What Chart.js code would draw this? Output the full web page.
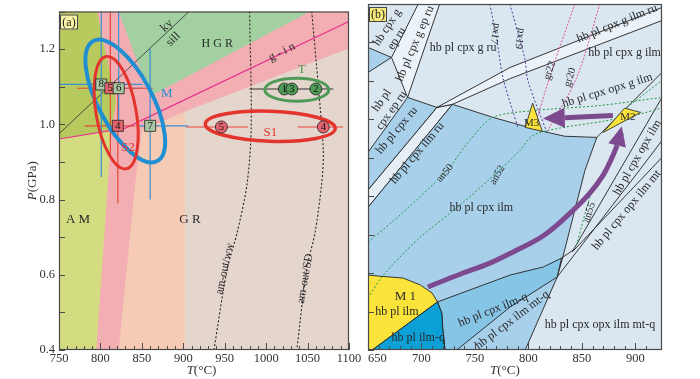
<!DOCTYPE html>
<html>
<head>
<meta charset="utf-8">
<script src="https://cdn.jsdelivr.net/npm/chart.js@4.4.0/dist/chart.umd.min.js"></script>
<style>
  html, body { margin: 0; padding: 0; background: #fff; }
  #wrap { position: relative; width: 700px; height: 379px; overflow: hidden; }
  canvas { position: absolute; top: 0; }
  #chartA { left: 0; }
  #chartB { left: 355px; }
</style>
</head>
<body>
<div id="wrap">
  <canvas id="chartA" width="370" height="379"></canvas>
  <canvas id="chartB" width="345" height="379"></canvas>
</div>
<script>
// ---------- panel (a) data : T in °C, P in GPa ----------
const fieldOliveDark = [[750, 1.3], [796, 1.3], [819, 1.06], [813, 0.984], [750, 0.961]];
const fieldOliveLight = [[750, 0.961], [813, 0.984], [809, 0.84], [795, 0.4], [750, 0.4]];
const fieldHGR = [[822, 1.3], [1053, 1.3], [860, 1.075]];
const fieldGRlow = [[850, 0.984], [902, 1.034], [902, 0.4], [822, 0.4], [842, 0.842]];
const fieldGRhigh = [[902, 1.034], [1100, 1.202], [1100, 0.4], [902, 0.4]];

const kySillT = [750, 907];
const kySillP = [0.975, 1.3];
const gInT = [750, 830, 1101];
const gInP = [0.961, 0.990, 1.275];
const amWwT = [980, 982, 977, 965, 953, 937];
const amWwP = [1.3, 0.997, 0.842, 0.712, 0.616, 0.4];
const amSdT = [1055, 1063, 1069, 1067, 1059, 1049, 1037];
const amSdP = [1.3, 1.101, 0.927, 0.842, 0.712, 0.616, 0.4];

// squares (numbered samples) with error bars
const sqNum = ['8', '5', '6', '4', '7'];
const sqT = [801, 812, 822, 821, 860];
const sqP = [1.106, 1.096, 1.096, 0.996, 0.996];
const sqTlo = [749, 772, 800, 781, 845];
const sqThi = [851, 863, 850, 842, 906];
const sqPlo = [0.86, 0.92, 1.0, 0.79, 0.80];
const sqPhi = [1.30, 1.30, 1.30, 1.10, 1.20];
const sqRed = [false, true, false, true, false];

// circles
const ciNum = ['5', '4', '1', '3', '2'];
const ciT = [946, 1069, 1022, 1031, 1060];
const ciP = [0.993, 0.993, 1.094, 1.094, 1.094];
const ciTlo = [903, 1038, 980, null, null];
const ciThi = [978, 1093, 1081, null, null];
const ciRed = [true, true, false, false, false];

// ellipses (centres)
const ellName = ['M', 'S2', 'S1', 'T'];
const ellT = [830, 819, 1005, 1037];
const ellP = [1.062, 1.031, 0.995, 1.092];

// ---------- panel (b) data ----------
const fieldWedge = [[650, 1.187], [672, 1.161], [650, 1.122]];
const stripeGEpRu = [[697, 1.3], [717, 1.3], [687, 1.057], [672, 1.161]];
const fieldCpxRu = [[650, 0.914], [687, 1.057], [714.5, 1.031], [650, 0.816]];
const stripeIlmRu = [[650, 0.816], [714.5, 1.031], [729, 1.039], [650, 0.771]];
const stripeGIlmRu = [[714.5, 1.031], [783, 1.135], [925, 1.291], [925, 1.257], [783, 1.106], [729, 1.039]];
const fieldCpxIlm = [[650, 0.771], [729, 1.039], [767, 1.005], [813, 0.969], [834, 0.956], [864, 0.953],
  [853, 0.868], [832, 0.639], [827, 0.590], [797, 0.4], [650, 0.4]];
const fieldCpxIlmQ = [[715, 0.525], [783, 0.595], [814, 0.616], [831, 0.639], [827, 0.590], [783, 0.512],
  [733, 0.4], [722, 0.4], [720, 0.452], [719, 0.496]];
const fieldM1 = [[650, 0.595], [661, 0.592], [683, 0.587], [699, 0.569], [710, 0.548], [715, 0.525], [654, 0.4], [650, 0.4]];
const fieldIlmQ = [[715, 0.525], [719, 0.496], [720, 0.452], [722, 0.4], [654, 0.4]];
const triM3 = [[804, 1.042], [797, 0.979], [813, 0.969]];
const triM2 = [[870, 0.966], [890, 1.029], [905, 1.018]];

const lineR1T = [864, 925];
const lineR1P = [0.953, 1.122];
const lineR2T = [831, 842, 885.5, 925];
const lineR2P = [0.639, 0.660, 0.868, 1.057];
const lineR3T = [827, 904, 925];
const lineR3P = [0.590, 0.868, 0.945];
const lineR4T = [841, 925];
const lineR4P = [0.655, 0.901];

const an50T = [650, 680, 724, 745, 767, 806, 867, 925];
const an50P = [0.681, 0.751, 0.868, 0.945, 1.005, 1.023, 1.036, 1.057];
const an52T = [650, 663, 696, 736, 773, 792, 804, 829, 870, 906, 925];
const an52P = [0.535, 0.590, 0.686, 0.777, 0.868, 0.919, 0.958, 0.977, 0.995, 1.015, 1.030];
const an55T = [845, 860, 871.5, 881, 890];
const an55P = [0.673, 0.816, 0.868, 0.919, 0.966];
const anUpT = [892, 925];
const anUpP = [1.031, 1.101];

const px17T = [764, 770.6, 776.2, 790.2];
const px17P = [1.3, 1.205, 1.109, 0.979];
const px19T = [782.7, 796.7, 799.5, 817.3];
const px19P = [1.3, 1.158, 1.101, 0.966];
const gr22T = [843.5, 822.9, 806.1];
const gr22P = [1.3, 1.135, 0.984];
const gr20T = [866.8, 845.3, 818.2];
const gr20P = [1.3, 1.109, 0.971];

// P-T path arrows
const pathT = [706, 736, 764, 787, 815, 842, 857.5, 870, 878, 883];
const pathP = [0.564, 0.597, 0.626, 0.657, 0.699, 0.764, 0.808, 0.855, 0.899, 0.932];
const pathTip = [887.4, 0.982];
const backT = [879, 834];
const backP = [1.010, 1.004];
const backTip = [813.6, 1.002];

// ---------- styles ----------
Chart.defaults.font.family = '"Liberation Serif", "Times New Roman", serif';
Chart.defaults.color = '#333';
const SERIF = '"Liberation Serif", "Times New Roman", serif';

const ellStyle = {
    M: { rx: 68, ry: 27, rot: 62, color: '#1f8fd2', w: 4 },
    S2: { rx: 57, ry: 20, rot: 80, color: '#e3352e', w: 3 },
    S1: { rx: 65, ry: 15, rot: 2, color: '#e3352e', w: 3.5 },
    T: { rx: 32, ry: 11.5, rot: 0, color: '#4f9a57', w: 3 },
};

const labelsA = [
    { text: 'ky', t: 880, p: 1.262, rot: -44 },
    { text: 'sill', t: 888, p: 1.226, rot: -44 },
    { text: 'H G R', t: 941, p: 1.213 },
    { text: 'g - i n', t: 1019, p: 1.192, rot: -27 },
    { text: 'M', t: 880, p: 1.081, color: '#1f8fd2', size: 13 },
    { text: 'S2', t: 833, p: 0.938, color: '#e3352e', size: 13 },
    { text: 'S1', t: 1005, p: 0.977, color: '#e3352e', size: 13 },
    { text: 'T', t: 1043, p: 1.145, color: '#4f9a57', size: 13 },
    { text: 'A M', t: 773, p: 0.748, size: 13 },
    { text: 'G R', t: 908, p: 0.748, size: 13 },
    { text: 'am-out/ww', t: 950, p: 0.616, rot: -78, size: 11.5 },
    { text: 'am-out/SD', t: 1047, p: 0.590, rot: -80, size: 11.5 },
];

const labelsB = [
    { text: 'hb cpx g', t: 668, p: 1.239, rot: -57 },
    { text: 'ep ru', t: 677, p: 1.210, rot: -57 },
    { text: 'hb pl cpx g ep ru', t: 694, p: 1.197, rot: -67 },
    { text: 'hb pl cpx g ru', t: 739, p: 1.187 },
    { text: 'hb pl', t: 663, p: 1.049, rot: -55 },
    { text: 'cpx ep ru', t: 672, p: 1.023, rot: -55 },
    { text: 'hb pl cpx ru', t: 677, p: 0.971, rot: -50 },
    { text: 'hb pl cpx ilm ru', t: 696, p: 0.912, rot: -50 },
    { text: 'hb pl cpx g ilm ru', t: 883, p: 1.249, rot: -22 },
    { text: 'hb pl cpx g ilm', t: 890, p: 1.174 },
    { text: 'hb pl cpx opx g ilm', t: 874, p: 1.075, rot: -17 },
    { text: 'hb pl cpx opx ilm', t: 902, p: 0.901, rot: -60 },
    { text: 'hb pl cpx opx ilm mt', t: 892, p: 0.764, rot: -50 },
    { text: 'hb pl cpx ilm', t: 756, p: 0.769 },
    { text: 'hb pl cpx ilm-q', t: 767, p: 0.504, rot: -22 },
    { text: 'hb pl cpx ilm mt-q', t: 785, p: 0.478, rot: -37 },
    { text: 'hb pl cpx opx ilm mt-q', t: 867, p: 0.465 },
    { text: 'M 1', t: 685, p: 0.538, size: 13 },
    { text: 'hb pl ilm', t: 677, p: 0.499 },
    { text: 'hb pl ilm-q', t: 697, p: 0.431 },
    { text: 'an50', t: 722, p: 0.860, rot: -50, size: 10.5 },
    { text: 'an52', t: 771, p: 0.855, rot: -60, size: 10.5 },
    { text: 'an55', t: 857, p: 0.758, rot: -72, size: 10.5 },
    { text: 'px17', t: 769, p: 1.223, rot: 100, size: 10.5 },
    { text: 'px19', t: 792, p: 1.210, rot: 100, size: 10.5 },
    { text: 'gr22', t: 820, p: 1.127, rot: -72, size: 10.5 },
    { text: 'gr20', t: 839, p: 1.109, rot: -72, size: 10.5 },
    { text: 'M3', t: 803, p: 0.990, size: 11 },
    { text: 'M2', t: 893, p: 1.005, size: 11 },
];

// ---------- helpers ----------
const pts = (T, P) => T.map((t, i) => ({ x: t, y: P[i] }));

function drawPoly(chart, poly, fill, stroke) {
    const { ctx, scales: { x, y } } = chart;
    ctx.beginPath();
    poly.forEach(([t, p], i) => {
        const px = x.getPixelForValue(t), py = y.getPixelForValue(p);
        if (i) ctx.lineTo(px, py); else ctx.moveTo(px, py);
    });
    ctx.closePath();
    if (fill) { ctx.fillStyle = fill; ctx.fill(); }
    if (stroke) { ctx.strokeStyle = stroke; ctx.lineWidth = 0.9; ctx.stroke(); }
}

function drawText(chart, it) {
    const { ctx, scales: { x, y } } = chart;
    ctx.save();
    ctx.translate(x.getPixelForValue(it.t), y.getPixelForValue(it.p));
    ctx.rotate((it.rot || 0) * Math.PI / 180);
    ctx.font = (it.size || 12) + 'px ' + SERIF;
    ctx.fillStyle = it.color || '#2a2a2a';
    ctx.textAlign = 'center';
    ctx.textBaseline = 'middle';
    ctx.fillText(it.text, 0, 0);
    ctx.restore();
}

function tag(chart, text, fill) {
    const { ctx, chartArea: a } = chart;
    ctx.save();
    ctx.fillStyle = fill;
    ctx.fillRect(a.left + 1, a.top + 3, 18, 15);
    ctx.strokeStyle = '#444';
    ctx.lineWidth = 1;
    ctx.strokeRect(a.left + 1.5, a.top + 3.5, 17, 14);
    ctx.font = '12px ' + SERIF;
    ctx.fillStyle = '#222';
    ctx.textAlign = 'center';
    ctx.textBaseline = 'middle';
    ctx.fillText(text, a.left + 10, a.top + 11);
    ctx.restore();
}

function ticksAndFrame(chart) {
    const { ctx, chartArea: a, scales: { x, y } } = chart;
    ctx.save();
    ctx.strokeStyle = '#4a4a4a';
    ctx.lineWidth = 1;
    ctx.beginPath();
    x.ticks.forEach(t => {
        if (Math.abs(t.value % 10) > 1e-6) return;
        const px = Math.round(x.getPixelForValue(t.value)) + 0.5;
        const len = t.value % 50 === 0 ? 7 : 4;
        ctx.moveTo(px, a.bottom);
        ctx.lineTo(px, a.bottom - len);
    });
    y.ticks.forEach(t => {
        const py = Math.round(y.getPixelForValue(t.value)) + 0.5;
        ctx.moveTo(a.left, py);
        ctx.lineTo(a.left + 6, py);
    });
    ctx.stroke();
    ctx.lineWidth = 1.2;
    ctx.strokeRect(a.left + 0.5, a.top + 0.5, a.width - 1, a.height - 1);
    ctx.restore();
}

function xTitle(chart, tPos) {
    const { ctx, scales: { x } } = chart;
    ctx.save();
    ctx.fillStyle = '#333';
    ctx.textBaseline = 'middle';
    ctx.textAlign = 'left';
    ctx.font = 'italic 13px ' + SERIF;
    const w1 = ctx.measureText('T').width;
    ctx.font = '13px ' + SERIF;
    const w2 = ctx.measureText('(°C)').width;
    const x0 = x.getPixelForValue(tPos) - (w1 + w2) / 2;
    ctx.font = 'italic 13px ' + SERIF;
    ctx.fillText('T', x0, 371);
    ctx.font = '13px ' + SERIF;
    ctx.fillText('(°C)', x0 + w1, 371);
    ctx.restore();
}

function yTitle(chart) {
    const { ctx, chartArea: a } = chart;
    ctx.save();
    ctx.translate(33, (a.top + a.bottom) / 2);
    ctx.rotate(-Math.PI / 2);
    ctx.fillStyle = '#333';
    ctx.textBaseline = 'middle';
    ctx.textAlign = 'left';
    ctx.font = 'italic 13px ' + SERIF;
    const w1 = ctx.measureText('P').width;
    ctx.font = '13px ' + SERIF;
    const w2 = ctx.measureText('(GPa)').width;
    const x0 = -(w1 + w2) / 2;
    ctx.font = 'italic 13px ' + SERIF;
    ctx.fillText('P', x0, 0);
    ctx.font = '13px ' + SERIF;
    ctx.fillText('(GPa)', x0 + w1, 0);
    ctx.restore();
}

function arrowHead(chart, from, tip, half, color) {
    const { ctx, scales: { x, y } } = chart;
    const x0 = x.getPixelForValue(from[0]), y0 = y.getPixelForValue(from[1]);
    const x1 = x.getPixelForValue(tip[0]), y1 = y.getPixelForValue(tip[1]);
    const ang = Math.atan2(y1 - y0, x1 - x0) + Math.PI / 2;
    ctx.save();
    ctx.beginPath();
    ctx.moveTo(x1, y1);
    ctx.lineTo(x0 + Math.cos(ang) * half, y0 + Math.sin(ang) * half);
    ctx.lineTo(x0 - Math.cos(ang) * half, y0 - Math.sin(ang) * half);
    ctx.closePath();
    ctx.fillStyle = color;
    ctx.fill();
    ctx.restore();
}

const lineSet = (T, P, color, width, dash, tension) => ({
    data: pts(T, P), showLine: true, pointRadius: 0, borderColor: color,
    borderWidth: width, borderDash: dash || [], tension: tension || 0, fill: false,
});

const scaleFont = { family: SERIF, size: 12.5 };

// ---------- chart (a) ----------
const BLUE = '#3a90d2', RED = '#e8463a';
const barsA = [];
sqNum.forEach((n, i) => {
    const c = sqRed[i] ? RED : BLUE;
    barsA.push(lineSet([sqTlo[i], sqThi[i]], [sqP[i], sqP[i]], c, 1.2));
    barsA.push(lineSet([sqT[i], sqT[i]], [sqPlo[i], sqPhi[i]], c, 1.2));
});
ciNum.forEach((n, i) => {
    if (ciTlo[i] === null) return;
    const c = ciRed[i] ? RED : '#333';
    barsA.push(lineSet([ciTlo[i], ciThi[i]], [ciP[i], ciP[i]], c, 1.1));
});

const plugA = {
    id: 'panelA',
    beforeDatasetsDraw(chart) {
        const { ctx, chartArea: a } = chart;
        ctx.save();
        ctx.beginPath();
        ctx.rect(a.left, a.top, a.width, a.height);
        ctx.clip();
        ctx.fillStyle = '#f2aeb2';
        ctx.fillRect(a.left, a.top, a.width, a.height);
        drawPoly(chart, fieldOliveDark, '#b8c95e');
        drawPoly(chart, fieldOliveLight, '#d4dc82');
        drawPoly(chart, fieldHGR, '#a2d0a1');
        drawPoly(chart, fieldGRlow, '#f6cbb5');
        drawPoly(chart, fieldGRhigh, '#e4d5cd');
        ctx.restore();
    },
    beforeDatasetDraw(chart, args) {
        if (args.index !== 1) return;
        const { ctx, scales: { x, y } } = chart;
        ctx.save();
        ellName.forEach((name, i) => {
            const s = ellStyle[name];
            ctx.beginPath();
            ctx.ellipse(x.getPixelForValue(ellT[i]), y.getPixelForValue(ellP[i]), s.rx, s.ry,
                s.rot * Math.PI / 180, 0, 2 * Math.PI);
            ctx.strokeStyle = s.color;
            ctx.lineWidth = s.w;
            ctx.stroke();
        });
        ctx.restore();
    },
    afterDatasetsDraw(chart) {
        sqNum.forEach((n, i) => drawText(chart, { text: n, t: sqT[i], p: sqP[i], size: 11, color: '#111' }));
        ciNum.forEach((n, i) => drawText(chart, { text: n, t: ciT[i], p: ciP[i], size: 10.5, color: '#111' }));
        labelsA.forEach(l => drawText(chart, l));
    },
    afterDraw(chart) {
        ticksAndFrame(chart);
        tag(chart, '(a)', '#fbf3a6');
        xTitle(chart, 922);
        yTitle(chart);
    },
};

new Chart(document.getElementById('chartA'), {
    type: 'scatter',
    data: {
        datasets: [
            {
                data: pts(sqT, sqP), pointStyle: 'rect', pointRadius: 7.8,
                backgroundColor: sqRed.map(r => r ? '#e2646c' : '#a9c6a5'),
                borderColor: '#222', borderWidth: 0.8,
            },
            {
                data: pts(ciT, ciP), pointStyle: 'circle', pointRadius: 6,
                backgroundColor: ciRed.map(r => r ? '#e3646f' : '#4f9a57'),
                borderColor: '#222', borderWidth: 0.8,
            },
            ...barsA,
            lineSet(gInT, gInP, '#e5308c', 1.2),
            lineSet(kySillT, kySillP, '#2b2b2b', 0.8),
            lineSet(amWwT, amWwP, '#222', 1.1, [2, 2], 0.3),
            lineSet(amSdT, amSdP, '#222', 1.1, [2, 2], 0.3),
        ],
    },
    options: {
        responsive: false, animation: false, devicePixelRatio: 1,
        layout: { padding: { left: 0, right: 21, top: 4, bottom: 0 } },
        plugins: { legend: { display: false }, tooltip: { enabled: false } },
        scales: {
            x: {
                type: 'linear', min: 750, max: 1100,
                afterFit: s => { s.height = 29; },
                grid: { display: false, drawTicks: false }, border: { display: false },
                ticks: {
                    stepSize: 10, autoSkip: false, maxRotation: 0, padding: 1, font: scaleFont, color: '#333',
                    callback: v => (v % 50 === 0 ? String(v) : ''),
                },
            },
            y: {
                min: 0.4, max: 1.3,
                afterFit: s => { s.width = 59; },
                grid: { display: false, drawTicks: false }, border: { display: false },
                ticks: {
                    stepSize: 0.1, autoSkip: false, padding: 4, font: scaleFont, color: '#333',
                    callback: v => { const k = Math.round(v * 10); return k % 2 === 0 && k <= 12 ? (k / 10).toFixed(1) : ''; },
                },
            },
        },
    },
    plugins: [plugA],
});

// ---------- chart (b) ----------
const PURPLE = '#7d4a8f', GREEN = '#1e9a45', VIOLET = '#4b3c9e', PINK = '#e2509a';

const plugB = {
    id: 'panelB',
    beforeDatasetsDraw(chart) {
        const { ctx, chartArea: a } = chart;
        ctx.save();
        ctx.beginPath();
        ctx.rect(a.left, a.top, a.width, a.height);
        ctx.clip();
        ctx.fillStyle = '#dae6f0';
        ctx.fillRect(a.left, a.top, a.width, a.height);
        const k = '#222';
        drawPoly(chart, fieldWedge, '#a8d0eb', k);
        drawPoly(chart, stripeGEpRu, '#ebf2f8', k);
        drawPoly(chart, fieldCpxRu, '#a8d0eb', k);
        drawPoly(chart, stripeIlmRu, '#e6eff6', k);
        drawPoly(chart, stripeGIlmRu, '#ebf2f8', k);
        drawPoly(chart, fieldCpxIlm, '#a8d0eb', k);
        drawPoly(chart, fieldCpxIlmQ, '#87c5e6', k);
        drawPoly(chart, fieldM1, '#fae43c', k);
        drawPoly(chart, fieldIlmQ, '#0ca0d7', k);
        ctx.restore();
    },
    afterDatasetsDraw(chart) {
        const { ctx, chartArea: a } = chart;
        ctx.save();
        ctx.beginPath();
        ctx.rect(a.left, a.top, a.width, a.height);
        ctx.clip();
        drawPoly(chart, triM3, '#fae43c', '#333');
        drawPoly(chart, triM2, '#fae43c', '#333');
        ctx.restore();
        arrowHead(chart, [pathT[pathT.length - 1], pathP[pathP.length - 1]], pathTip, 9, PURPLE);
        arrowHead(chart, [backT[1], backP[1]], backTip, 10, PURPLE);
        labelsB.forEach(l => drawText(chart, l));
    },
    afterDraw(chart) {
        ticksAndFrame(chart);
        tag(chart, '(b)', '#f6ea7c');
        xTitle(chart, 778);
    },
};

new Chart(document.getElementById('chartB'), {
    type: 'scatter',
    data: {
        datasets: [
            lineSet(pathT, pathP, PURPLE, 5, [], 0.4),
            lineSet(backT, backP, PURPLE, 5),
            lineSet(px17T, px17P, VIOLET, 1, [2, 2], 0.3),
            lineSet(px19T, px19P, VIOLET, 1, [2, 2], 0.3),
            lineSet(gr22T, gr22P, PINK, 1, [2, 1.5], 0.3),
            lineSet(gr20T, gr20P, PINK, 1, [2, 1.5], 0.3),
            lineSet(an50T, an50P, GREEN, 1, [2, 2], 0.3),
            lineSet(an52T, an52P, GREEN, 1, [2, 2], 0.3),
            lineSet(an55T, an55P, GREEN, 1, [2, 2], 0.3),
            lineSet(anUpT, anUpP, GREEN, 1, [2, 2]),
            lineSet(lineR1T, lineR1P, '#222', 0.9),
            lineSet(lineR2T, lineR2P, '#222', 0.9),
            lineSet(lineR3T, lineR3P, '#222', 0.9),
            lineSet(lineR4T, lineR4P, '#222', 0.9),
        ],
    },
    options: {
        responsive: false, animation: false, devicePixelRatio: 1,
        layout: { padding: { left: 0, right: 38, top: 4, bottom: 0 } },
        plugins: { legend: { display: false }, tooltip: { enabled: false } },
        scales: {
            x: {
                type: 'linear', min: 650, max: 925,
                afterFit: s => { s.height = 29; },
                grid: { display: false, drawTicks: false }, border: { display: false },
                ticks: {
                    stepSize: 10, autoSkip: false, maxRotation: 0, padding: 1, align: 'inner',
                    font: scaleFont, color: '#333',
                    callback: v => (v % 50 === 0 ? String(v) : ''),
                },
            },
            y: {
                min: 0.4, max: 1.3,
                afterFit: s => { s.width = 13; },
                grid: { display: false, drawTicks: false }, border: { display: false },
                ticks: { stepSize: 0.1, autoSkip: false, display: false },
            },
        },
    },
    plugins: [plugB],
});
</script>
</body>
</html>
